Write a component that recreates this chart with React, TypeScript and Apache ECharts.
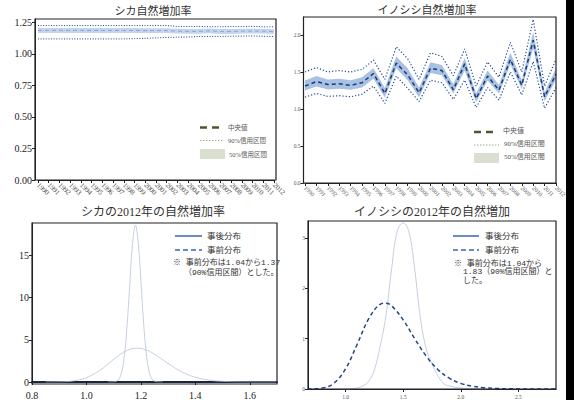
import React, { useEffect, useRef } from 'react';
import * as echarts from 'echarts';

// ---------- data ----------
const years = ['1990','1991','1992','1993','1994','1995','1996','1997','1998','1999','2000','2001','2002','2003','2004','2005','2006','2007','2008','2009','2010','2011','2012'];

const sikaMedian  = [1.186,1.186,1.186,1.186,1.186,1.185,1.185,1.185,1.185,1.185,1.184,1.184,1.184,1.180,1.178,1.178,1.182,1.177,1.177,1.180,1.180,1.180,1.176];
const sikaUpper90 = [1.224,1.224,1.224,1.224,1.224,1.224,1.224,1.224,1.224,1.224,1.224,1.224,1.224,1.217,1.216,1.217,1.215,1.215,1.216,1.216,1.218,1.214,1.214];
const sikaLower90 = [1.118,1.118,1.118,1.118,1.118,1.118,1.118,1.118,1.118,1.120,1.123,1.126,1.130,1.132,1.133,1.138,1.138,1.138,1.140,1.140,1.142,1.139,1.138];
const sikaUpper50 = [1.205,1.205,1.205,1.205,1.205,1.204,1.204,1.204,1.204,1.204,1.203,1.203,1.203,1.199,1.197,1.197,1.200,1.196,1.196,1.198,1.199,1.198,1.195];
const sikaLower50 = [1.166,1.166,1.166,1.166,1.166,1.166,1.166,1.166,1.166,1.166,1.165,1.165,1.165,1.161,1.159,1.159,1.163,1.158,1.158,1.161,1.161,1.161,1.157];

const boarMedian  = [1.31,1.37,1.33,1.34,1.32,1.355,1.48,1.21,1.62,1.46,1.22,1.55,1.52,1.26,1.61,1.14,1.445,1.255,1.67,1.32,1.93,1.165,1.47];
const boarUpper90 = [1.50,1.56,1.50,1.52,1.50,1.535,1.66,1.40,1.84,1.68,1.40,1.76,1.71,1.45,1.81,1.31,1.635,1.43,1.90,1.50,2.21,1.31,1.67];
const boarLower90 = [1.16,1.21,1.17,1.18,1.165,1.20,1.31,1.075,1.445,1.28,1.10,1.39,1.355,1.13,1.39,1.02,1.29,1.12,1.50,1.19,1.64,1.01,1.29];
const boarUpper50 = [1.385,1.445,1.40,1.41,1.39,1.43,1.55,1.285,1.71,1.55,1.29,1.63,1.595,1.335,1.69,1.21,1.52,1.325,1.76,1.39,2.04,1.225,1.55];
const boarLower50 = [1.25,1.305,1.265,1.275,1.26,1.29,1.41,1.155,1.55,1.39,1.16,1.485,1.455,1.21,1.52,1.09,1.385,1.21,1.60,1.27,1.82,1.105,1.40];

const sikaPostX = [1.08,1.10,1.11,1.12,1.13,1.14,1.15,1.16,1.17,1.18,1.19,1.20,1.21,1.22,1.23,1.24,1.25,1.26,1.28];
const sikaPostY = [0.0,0.02,0.09,0.38,1.24,3.29,7.0,12.0,16.6,18.55,16.6,12.0,7.0,3.29,1.24,0.38,0.09,0.02,0.0];
const sikaPriorX = [0.85,0.90,0.95,1.00,1.05,1.075,1.10,1.125,1.15,1.175,1.19,1.225,1.25,1.275,1.30,1.325,1.35,1.375,1.40,1.45,1.50,1.55,1.60,1.65,1.70];
const sikaPriorY = [0.003,0.018,0.121,0.507,1.40,2.02,2.68,3.29,3.75,3.98,4.0,3.71,3.28,2.75,2.19,1.66,1.21,0.84,0.56,0.22,0.078,0.024,0.007,0.002,0.0005];

const boarPostX = [0.95,1.05,1.10,1.15,1.20,1.25,1.30,1.35,1.40,1.45,1.50,1.55,1.60,1.65,1.70,1.75,1.80,1.85,1.90,2.00,2.10,2.30];
const boarPostY = [0,0.005,0.02,0.06,0.15,0.38,0.85,1.45,2.4,3.15,3.30,3.12,2.38,1.40,0.80,0.50,0.27,0.11,0.06,0.02,0.005,0];
const boarPriorX = [0.67,0.70,0.80,0.90,1.00,1.10,1.20,1.30,1.35,1.40,1.50,1.60,1.70,1.80,1.90,2.00,2.10,2.20,2.30,2.40,2.60,2.83];
const boarPriorY = [0.0005,0.0014,0.019,0.117,0.402,0.885,1.392,1.683,1.706,1.653,1.375,1.0,0.653,0.389,0.215,0.112,0.056,0.026,0.012,0.005,0.001,0.0002];

const sikaYTicks = [0, 0.25, 0.5, 0.75, 1.0, 1.25];
const boarYTicks = [0, 0.5, 1.0, 1.5, 2.0];
const sikaDistXTicks = [0.8, 1.0, 1.2, 1.4, 1.6];
const sikaDistYTicks = [0, 5, 10, 15];
const boarDistXTicks = [1.0, 1.5, 2.0, 2.5];
const boarDistYTicks = [0, 1, 2, 3];

const SERIF = "'Liberation Serif', 'Noto Sans CJK JP', serif";
const JP = "'Liberation Serif', 'Noto Sans CJK JP', sans-serif";
const MONO = "'Liberation Mono', 'Noto Sans CJK JP', monospace";

const zip = (xs: number[], ys: number[]) => xs.map((x, i) => [x, ys[i]]);

function buildOption(): any {
  const axisLineBlack = { show: true, lineStyle: { color: '#222', width: 1 } };
  const tick = { show: true, length: 3, lineStyle: { color: '#222', width: 1 } };

  const catAxis = (gi: number, fs: number, color: string) => ({
    type: 'category', gridIndex: gi, data: years, boundaryGap: false,
    axisLine: axisLineBlack,
    axisTick: { ...tick, interval: 0 },
    axisLabel: { interval: 0, rotate: -45, fontSize: fs, color, fontFamily: SERIF, margin: 4 },
    splitLine: { show: false },
  });

  const valAxis = (gi: number, min: number, max: number, ticks: number[], fs: number, color: string, dec: number, offset = 0, lineW = 1, lineC = '#222', margin = 3) => ({
    type: 'value', gridIndex: gi, min, max, offset,
    axisLine: { show: true, lineStyle: { color: lineC, width: lineW } },
    axisTick: { ...tick, customValues: ticks },
    axisLabel: { customValues: ticks, fontSize: fs, color, fontFamily: SERIF, margin,
      formatter: (v: number) => dec >= 0 ? v.toFixed(dec) : String(v) },
    splitLine: { show: false },
  });

  const bandSeries = (xi: number, lower: number[], upper: number[], color: string, key: string) => ([
    { type: 'line', xAxisIndex: xi, yAxisIndex: xi, data: lower, stack: key, symbol: 'none',
      lineStyle: { opacity: 0 }, silent: true, z: 1 },
    { type: 'line', xAxisIndex: xi, yAxisIndex: xi, data: upper.map((v, i) => +(v - lower[i]).toFixed(4)), stack: key, symbol: 'none',
      lineStyle: { opacity: 0 }, areaStyle: { color, opacity: 1 }, silent: true, z: 1 },
  ]);

  const lineS = (xi: number, data: any[], color: string, width: number, type: any, smooth: any = false, z = 3) => ({
    type: 'line', xAxisIndex: xi, yAxisIndex: xi, data, symbol: 'none', smooth,
    lineStyle: { color, width, type }, z, silent: true,
  });

  const frame = (x: number, y: number, w: number, h: number) => ({
    type: 'rect', shape: { x, y, width: w, height: h }, silent: true, z: 100,
    style: { fill: 'none', stroke: '#222', lineWidth: 1.2 },
  });
  const txt = (text: string, x: number, y: number, fs: number, color = '#333', align = 'left', font = JP) => ({
    type: 'text', x, y, silent: true, z: 100,
    style: { text, fontSize: fs, fill: color, fontFamily: font, align, verticalAlign: 'middle' },
  });
  const gline = (x1: number, y1: number, x2: number, y2: number, stroke: string, lineWidth: number, lineDash?: number[]) => ({
    type: 'line', shape: { x1, y1, x2, y2 }, silent: true, z: 100,
    style: { stroke, lineWidth, lineDash },
  });
  const grect = (x: number, y: number, w: number, h: number, fill: string) => ({
    type: 'rect', shape: { x, y, width: w, height: h }, silent: true, z: 100, style: { fill },
  });

  return {
    animation: false,
    backgroundColor: '#ffffff',
    grid: [
      { left: 38, top: 19, width: 236, height: 161 },
      { left: 305, top: 17, width: 251, height: 166 },
      { left: 32, top: 223, width: 245, height: 161 },
      { left: 308, top: 221, width: 248, height: 168 },
    ],
    xAxis: [
      catAxis(0, 7, '#444'),
      catAxis(1, 6, '#555'),
      valAxis(2, 0.8, 1.7, sikaDistXTicks, 10, '#222', 1, 0, 2, '#1c2440', 8),
      valAxis(3, 0.674, 2.826, boarDistXTicks, 5.5, '#555', 1, 0, 1.2, '#1c2440', 5),
    ],
    yAxis: [
      valAxis(0, 0, 1.276, sikaYTicks, 10, '#222', 2, 3),
      valAxis(1, 0, 2.243, boarYTicks, 5.5, '#555', 1, 1.5),
      valAxis(2, 0, 18.82, sikaDistYTicks, 10, '#222', -1),
      valAxis(3, 0, 3.34, boarDistYTicks, 5.5, '#555', -1),
    ],
    series: [
      ...bandSeries(0, sikaLower50, sikaUpper50, '#c3d4ee', 's'),
      lineS(0, sikaUpper90, '#1d3f8a', 1, [1, 1.6]),
      lineS(0, sikaLower90, '#1d3f8a', 1, [1, 1.6]),
      lineS(0, sikaMedian, '#8aa6d6', 1, [4, 3]),

      ...bandSeries(1, boarLower50, boarUpper50, '#a9c1e3', 'b'),
      lineS(1, boarUpper90, '#1f4a96', 1.2, [1.2, 2]),
      lineS(1, boarLower90, '#1f4a96', 1.2, [1.2, 2]),
      lineS(1, boarMedian, '#1b3a78', 1.5, [4, 3]),

      lineS(2, zip(sikaPriorX, sikaPriorY), '#b8c3dc', 0.8, 'solid', 0.4),
      lineS(2, zip(sikaPostX, sikaPostY), '#b8c3dc', 0.8, 'solid', 0.4),

      lineS(3, zip(boarPostX, boarPostY), '#c3cde2', 1, 'solid', 0.4),
      lineS(3, zip(boarPriorX, boarPriorY), '#1f4788', 1.5, [4, 3], 0.4),
    ],
    graphic: [
      // titles
      txt('シカ自然増加率', 153, 11, 11, '#333', 'center'),
      txt('イノシシ自然増加率', 427, 10, 11, '#333', 'center'),
      txt('シカの2012年の自然増加率', 153, 212, 12, '#333', 'center'),
      txt('イノシシの2012年の自然増加', 432, 212, 12, '#333', 'center'),
      // frames
      frame(35, 19, 241, 161),
      frame(303.5, 17, 252.5, 166),
      frame(32, 223, 245, 161),
      frame(308, 221, 248, 168),
      // TL legend
      gline(200, 127.5, 222, 127.5, '#4b5a2e', 2.5, [7, 5]),
      txt('中央値', 228, 127, 6.5, '#555'),
      gline(200, 140.5, 223, 140.5, '#94ad7c', 1, [1.4, 1.6]),
      txt('90%信用区間', 228, 140, 6.5, '#555'),
      grect(200, 149, 25, 10, '#d9e0d1'),
      txt('50%信用区間', 229, 154, 6.5, '#555'),
      // TR legend
      gline(474, 132, 495, 132, '#4b5a2e', 2.5, [7, 5]),
      txt('中央値', 503, 131, 7, '#555'),
      gline(474, 145, 499, 145, '#94ad7c', 1, [1.4, 1.6]),
      txt('90%信用区間', 504, 144, 7, '#555'),
      grect(474, 153, 25, 10, '#d9e0d1'),
      txt('50%信用区間', 504, 157, 7, '#555'),
      // BL legend
      gline(175, 236, 202, 236, '#6a8bc3', 2),
      txt('事後分布', 207, 236, 8.5, '#333'),
      gline(175, 250, 202, 250, '#6a8bc3', 2, [5, 3]),
      txt('事前分布', 207, 250, 8.5, '#333'),
      txt('※ 事前分布は1.04から1.37', 173, 262, 8, '#333', 'left', MONO),
      txt('（90%信用区間）とした。', 184, 272, 8, '#333', 'left', MONO),
      // BR legend
      gline(453, 236, 479, 236, '#6a8bc3', 2),
      txt('事後分布', 485, 236, 8.5, '#333'),
      gline(453, 250, 479, 250, '#6a8bc3', 2, [5, 3]),
      txt('事前分布', 485, 250, 8.5, '#333'),
      txt('※ 事前分布は1.04から', 454, 263, 8, '#333', 'left', MONO),
      txt('1.83（90%信用区間）と', 463, 271.5, 8, '#333', 'left', MONO),
      txt('した。', 463, 280, 8, '#333', 'left', MONO),
      // right black bar
      grect(566, 0, 8, 400, '#000'),
    ],
  };
}

export default function App() {
  const ref = useRef<HTMLDivElement>(null);
  useEffect(() => {
    if (!ref.current) return;
    const chart = echarts.init(ref.current, null, { renderer: 'svg' });
    chart.setOption(buildOption());
    return () => chart.dispose();
  }, []);
  return <div ref={ref} style={{ position: 'absolute', left: 0, top: 0, width: 574, height: 400 }} />;
}
